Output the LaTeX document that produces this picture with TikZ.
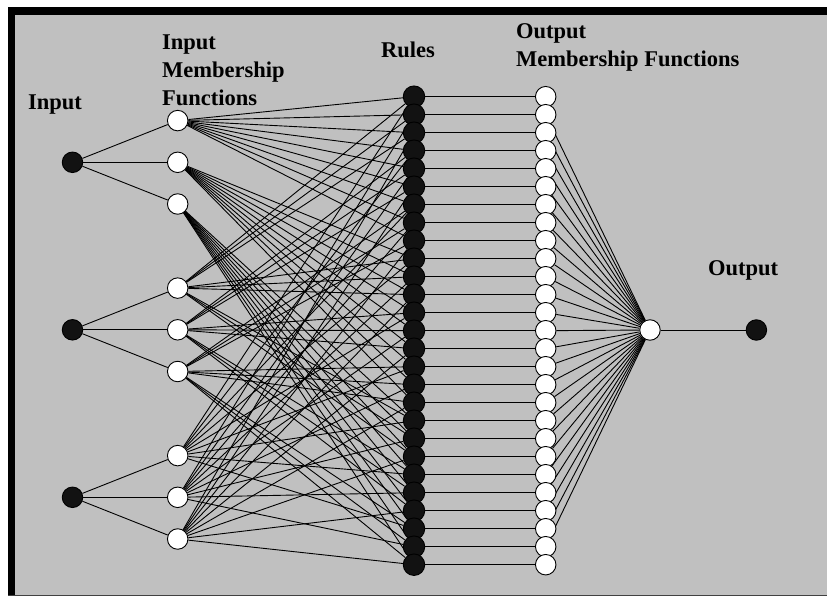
\documentclass[tikz,border=0pt]{standalone}
\usepackage{fontspec}
\setmainfont{Liberation Serif}
\usetikzlibrary{positioning}
\pgfdeclarelayer{panel}
\pgfdeclarelayer{wires}
\pgfsetlayers{panel,wires,main}
\definecolor{panelgrey}{HTML}{C0C0C0}
\begin{document}
\begin{tikzpicture}[
	x=1pt, y=-1pt,
	node distance=5mm and 30mm,
	dot/.style = {circle, draw=black, line width=0.9pt, inner sep=0pt, minimum size=20.5pt},
	blk/.style = {dot, fill=black!93},
	wht/.style = {dot, fill=white},
	rulebox/.style = {blk, minimum size=21.5pt},
	wire/.style = {line width=0.9pt, black},
	lbl/.style = {font=\fontsize{22.5}{28}\selectfont\bfseries, inner sep=0pt, anchor=base west, align=left}
     ]
		\useasboundingbox (0,0) rectangle (827,596);
		\begin{pgfonlayer}{panel}
		\fill[white] (0,0) rectangle (827,596);
		\fill[panelgrey] (8,7) rectangle (827,596);
		\fill[black] (8,7) rectangle (827,15);
		\fill[black] (8,7) rectangle (15,596);
		\draw[black!75, line width=1pt] (8,595) -- (827,595);
		\end{pgfonlayer}
%
		\node[lbl] (lbin)   at (28,110)  {Input};
		\node[lbl] (lbmf)   at (162,106) {Input\\Membership\\Functions};
		\node[lbl] (lbrule) at (381,57.5) {Rules};
		\node[lbl] (lbomf)  at (516,67)  {Output\\Membership Functions};
		\node[lbl] (lbout)  at (708,275) {Output};
%
		\foreach \g in {0,1,2}
		{
		\node (in\g) [blk] at (72.5,162.3+167.5*\g) {};
		\foreach \k in {0,1,2}
		{
		\pgfmathtruncatemacro\m{3*\g+\k+1}
		\node (mf\m) [wht] at (177.7,162.3+167.5*\g+41.7*\k-41.7) {};
		}
		}
%
		\foreach \r in {1,...,27}
		{
		\node (rule\r) [rulebox] at (414,96.7+18*\r-18) {};
		\node (omf\r)  [wht] at (545.7,96.7+18*\r-18) {};
		}
		\node (comb) [wht] at (650,330) {};
		\node (out)  [blk, right=85pt of comb] {};
%
		\begin{pgfonlayer}{wires}
		\foreach \g in {0,1,2}
		\foreach \k in {0,1,2}
		{
		\pgfmathtruncatemacro\m{3*\g+\k+1}
		\draw[wire] (in\g) -- (mf\m);
		}
		\foreach \a in {0,1,2}
		\foreach \b in {0,1,2}
		\foreach \c in {0,1,2}
		{
		\pgfmathtruncatemacro\r{9*\a+3*\b+\c+1}
		\pgfmathtruncatemacro\ma{\a+1}
		\pgfmathtruncatemacro\mb{\b+4}
		\pgfmathtruncatemacro\mc{\c+7}
		\draw[wire] (mf\ma) -- (rule\r);
		\draw[wire] (mf\mb) -- (rule\r);
		\draw[wire] (mf\mc) -- (rule\r);
		}
		\foreach \r in {1,...,27}
		\draw[wire] (rule\r) -- (omf\r);
		\foreach \r in {2,...,26}
		\draw[wire] (omf\r) -- (comb);
		\draw[wire] (comb) -- (out);
		\end{pgfonlayer}
\end{tikzpicture}
\end{document}
